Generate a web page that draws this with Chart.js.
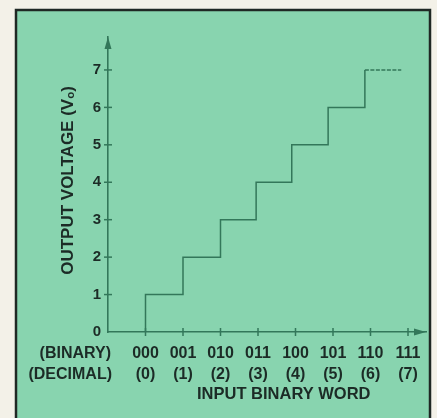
<!DOCTYPE html>
<html>
<head>
<meta charset="utf-8">
<script src="https://cdn.jsdelivr.net/npm/chart.js@4"></script>
<style>
  html, body { margin: 0; padding: 0; background: #f3f1e8; }
</style>
</head>
<body>
<canvas id="dac-chart" width="437" height="418"></canvas>
<script>
// --- Chart data ---
const binaryWords = ['000', '001', '010', '011', '100', '101', '110', '111'];
const decimalWords = ['(0)', '(1)', '(2)', '(3)', '(4)', '(5)', '(6)', '(7)'];
const voltTicks = [0, 1, 2, 3, 4, 5, 6, 7];
// staircase corners (input position, output volts)
const stepInput = [0, 1, 2, 3, 3.95, 4.9, 5.87, 6.85, 7.82];
const stepOutput = [0, 1, 2, 3, 4, 5, 6, 7, 7];

const GREEN_BG = '#88d4af';
const LINE = '#33775a';
const INK = '#1c2b26';
const FONT = '"Liberation Sans", Arial, sans-serif';

// panel, arrows, tick crosses and extra labels
const decorPlugin = {
  id: 'decor',
  beforeDraw(chart) {
    const ctx = chart.ctx;
    ctx.save();
    ctx.fillStyle = '#f3f1e8';
    ctx.fillRect(0, 0, chart.width, chart.height);
    ctx.fillStyle = GREEN_BG;
    ctx.fillRect(16, 10, 414, 410);
    ctx.strokeStyle = '#1f2824';
    ctx.lineWidth = 2.5;
    ctx.beginPath();
    ctx.moveTo(16, 420);
    ctx.lineTo(16, 10);
    ctx.lineTo(430, 10);
    ctx.lineTo(430, 420);
    ctx.stroke();
    ctx.restore();
  },
  afterDraw(chart) {
    const ctx = chart.ctx;
    const xs = chart.scales.x, ys = chart.scales.y;
    const x0 = xs.getPixelForValue(0), y0 = ys.getPixelForValue(0);
    const area = chart.chartArea;
    ctx.save();
    ctx.strokeStyle = LINE;
    ctx.fillStyle = LINE;
    ctx.lineWidth = 1.5;
    // tick crosses
    voltTicks.forEach(v => {
      if (v === 0) return;
      const y = ys.getPixelForValue(v);
      ctx.beginPath(); ctx.moveTo(x0 - 4, y); ctx.lineTo(x0 + 4, y); ctx.stroke();
    });
    binaryWords.forEach((w, i) => {
      const x = xs.getPixelForValue(i + 1);
      ctx.beginPath(); ctx.moveTo(x, y0 - 4); ctx.lineTo(x, y0 + 4); ctx.stroke();
    });
    // arrowheads
    ctx.beginPath();
    ctx.moveTo(x0, area.top);
    ctx.lineTo(x0 - 3.5, area.top + 12);
    ctx.lineTo(x0 + 3.5, area.top + 12);
    ctx.closePath(); ctx.fill();
    ctx.beginPath();
    ctx.moveTo(area.right, y0);
    ctx.lineTo(area.right - 12, y0 - 3.5);
    ctx.lineTo(area.right - 12, y0 + 3.5);
    ctx.closePath(); ctx.fill();

    // row captions and axis titles
    ctx.fillStyle = INK;
    ctx.font = 'bold 16px ' + FONT;
    ctx.textAlign = 'right';
    ctx.textBaseline = 'middle';
    ctx.fillText('(BINARY)', 111, 354);
    ctx.fillText('(DECIMAL)', 112, 375);
    ctx.textAlign = 'center';
    ctx.font = 'bold 16.5px ' + FONT;
    ctx.fillText('INPUT BINARY WORD', (xs.getPixelForValue(1) + xs.getPixelForValue(8)) / 2 + 7, 394);
    ctx.font = 'bold 17px ' + FONT;
    ctx.translate(68, (area.top + area.bottom) / 2 - 4);
    ctx.rotate(-Math.PI / 2);
    ctx.fillText('OUTPUT VOLTAGE (V\u2092)', 0, 0);
    ctx.restore();
  }
};

const lastStep = stepInput.length - 1;

new Chart(document.getElementById('dac-chart'), {
  type: 'line',
  data: {
    datasets: [{
      data: stepInput.map((x, i) => ({ x, y: stepOutput[i] })),
      borderColor: LINE,
      borderWidth: 1.5,
      stepped: 'before',
      pointRadius: 0,
      fill: false,
      segment: {
        borderDash: c => c.p1DataIndex === lastStep ? [4, 1.5] : undefined
      }
    }]
  },
  options: {
    responsive: false,
    animation: false,
    layout: { padding: { top: 37, right: 11, left: 48, bottom: 0 } },
    plugins: { legend: { display: false }, tooltip: { enabled: false } },
    scales: {
      x: {
        type: 'linear',
        min: 0,
        max: 8.48,
        afterFit: s => { s.height = 86; },
        afterBuildTicks: s => { s.ticks = [0, 1, 2, 3, 4, 5, 6, 7, 8].map(v => ({ value: v })); },
        grid: { display: false, drawTicks: false },
        border: { display: true, color: LINE, width: 1.6 },
        ticks: {
          padding: 11,
          maxRotation: 0,
          autoSkip: false,
          color: INK,
          font: { family: FONT, size: 16, weight: 'bold', lineHeight: 1.3 },
          callback: v => (v >= 1 && v <= 8) ? [binaryWords[v - 1], decimalWords[v - 1]] : ''
        }
      },
      y: {
        type: 'linear',
        min: 0,
        max: 7.88,
        afterFit: s => { s.width = 60; },
        afterBuildTicks: s => { s.ticks = voltTicks.map(v => ({ value: v })); },
        grid: { display: false, drawTicks: false },
        border: { display: true, color: LINE, width: 1.6 },
        ticks: {
          padding: 7,
          color: INK,
          font: { family: FONT, size: 15, weight: 'bold' }
        }
      }
    }
  },
  plugins: [decorPlugin]
});
</script>
</body>
</html>
